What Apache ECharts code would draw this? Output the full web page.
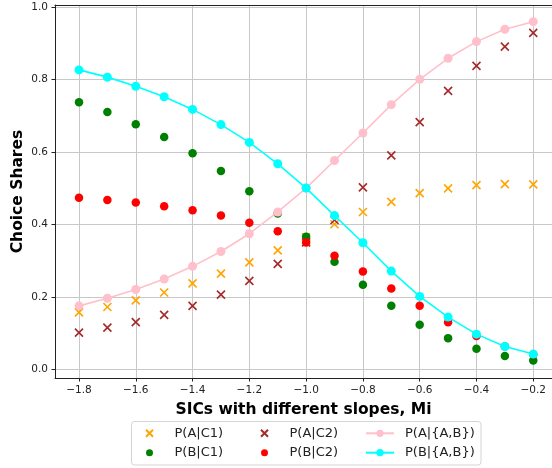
<!DOCTYPE html>
<html><head><meta charset="utf-8">
<script src="https://cdn.jsdelivr.net/npm/echarts@6/dist/echarts.min.js"></script>
<style>html,body{margin:0;padding:0;background:#fff}#c{width:552px;height:468px}</style>
</head><body><div id="c"></div>
<script>
const slopes = [-1.8,-1.7,-1.6,-1.5,-1.4,-1.3,-1.2,-1.1,-1.0,-0.9,-0.8,-0.7,-0.6,-0.5,-0.4,-0.3,-0.2];
const pA_C1 = [0.157,0.172,0.190,0.212,0.237,0.264,0.295,0.328,0.364,0.400,0.434,0.462,0.486,0.499,0.508,0.511,0.510];
const pB_C1 = [0.737,0.710,0.676,0.641,0.596,0.547,0.491,0.430,0.366,0.297,0.233,0.175,0.123,0.086,0.057,0.037,0.024];
const pA_C2 = [0.101,0.115,0.130,0.150,0.175,0.206,0.244,0.291,0.350,0.412,0.502,0.590,0.682,0.768,0.837,0.890,0.928];
const pB_C2 = [0.473,0.467,0.460,0.450,0.439,0.424,0.404,0.381,0.350,0.313,0.270,0.223,0.175,0.130,0.092,0.063,0.041];
const pA_AB = [0.175,0.196,0.220,0.249,0.284,0.325,0.374,0.434,0.500,0.576,0.652,0.730,0.800,0.858,0.904,0.938,0.959];
const pB_AB = [0.826,0.806,0.781,0.752,0.717,0.675,0.626,0.567,0.500,0.424,0.349,0.271,0.201,0.144,0.097,0.063,0.042];
const xTicks = [-1.8,-1.6,-1.4,-1.2,-1.0,-0.8,-0.6,-0.4,-0.2];
const yTicks = [0.0,0.2,0.4,0.6,0.8,1.0];
const seriesNames = ['P(A|C1)','P(B|C1)','P(A|C2)','P(B|C2)','P(A|{A,B})','P(B|{A,B})'];

const FONT = 'DejaVu Sans';
const pair = arr => slopes.map((x, i) => [x, arr[i]]);
const crossPath = 'path://M0,0L10,10M0,10L10,0';
const fmtX = v => (v < 0 ? '\u2212' : '') + Math.abs(v).toFixed(1);

const chart = echarts.init(document.getElementById('c'), null, {renderer: 'canvas'});

function crossSeries(name, data, color) {
  return {
    name, type: 'scatter', data, symbol: crossPath, symbolSize: 8,
    itemStyle: {color: 'none', borderColor: color, borderWidth: 1.6, opacity: 1},
    emphasis: {disabled: true}
  };
}
function dotSeries(name, data, color) {
  return {
    name, type: 'scatter', data, symbol: 'circle', symbolSize: 8.5,
    itemStyle: {color, borderWidth: 0, opacity: 1},
    emphasis: {disabled: true}
  };
}
function lineSeries(name, data, color) {
  return {
    name, type: 'line', data, symbol: 'circle', symbolSize: 9, showSymbol: true, showAllSymbol: true,
    lineStyle: {color, width: 1.6}, itemStyle: {color, borderWidth: 0, opacity: 1},
    emphasis: {disabled: true}
  };
}

const legendCommon = {
  orient: 'vertical', itemWidth: 28, itemHeight: 7, itemGap: 3.4, padding: 0,
  selectedMode: false, z: 10,
  textStyle: {fontFamily: FONT, fontSize: 13, color: '#222', lineHeight: 16, padding: [0, 0, 0, 6]}
};

chart.setOption({
  animation: false,
  backgroundColor: '#fff',
  grid: {left: 55, right: 0, top: 5, bottom: 90, containLabel: false, outerBoundsMode: 'none'},
  xAxis: [{
    type: 'value', min: -1.8845, max: -0.134,
    name: 'SICs with different slopes, Mi', nameLocation: 'middle', nameGap: 24, nameMoveOverlap: false,
    nameTextStyle: {fontFamily: FONT, fontSize: 15.5, fontWeight: 'bold', color: '#000'},
    axisLine: {show: true, onZero: false, lineStyle: {color: '#222', width: 1}},
    axisTick: {show: true, length: 3.5, customValues: xTicks, lineStyle: {color: '#222'}},
    axisLabel: {customValues: xTicks, formatter: fmtX, fontFamily: FONT, fontSize: 10.5, color: '#222', margin: 7},
    splitLine: {show: true, lineStyle: {color: '#c8c8c8', width: 1}}
  }, {
    type: 'value', position: 'top', min: -1.8845, max: -0.134,
    axisLine: {show: true, onZero: false, lineStyle: {color: '#222', width: 1}},
    axisTick: {show: false}, axisLabel: {show: false}, splitLine: {show: false}
  }],
  yAxis: {
    type: 'value', min: -0.024, max: 1.005,
    name: 'Choice Shares', nameLocation: 'middle', nameGap: 29, nameMoveOverlap: false,
    nameTextStyle: {fontFamily: FONT, fontSize: 15.5, fontWeight: 'bold', color: '#000'},
    axisLine: {show: true, onZero: false, lineStyle: {color: '#222', width: 1}},
    axisTick: {show: true, length: 3.5, customValues: yTicks, lineStyle: {color: '#222'}},
    axisLabel: {customValues: yTicks, formatter: v => v.toFixed(1), fontFamily: FONT, fontSize: 10.5, color: '#222', margin: 7},
    splitLine: {show: true, lineStyle: {color: '#c8c8c8', width: 1}}
  },
  legend: [
    Object.assign({}, legendCommon, {left: 143.5, top: 425.3, data: [seriesNames[0], seriesNames[1]]}),
    Object.assign({}, legendCommon, {left: 258.5, top: 425.3, data: [seriesNames[2], seriesNames[3]]}),
    Object.assign({}, legendCommon, {left: 365, top: 425.3, itemHeight: 9, itemGap: 3.4, data: [seriesNames[4], seriesNames[5]]})
  ],
  graphic: [{
    type: 'rect', z: 0,
    shape: {x: 131.5, y: 421.5, width: 349.5, height: 43.5, r: 3},
    style: {fill: '#fff', stroke: '#d4d4d4', lineWidth: 1}
  }],
  series: [
    crossSeries(seriesNames[0], pair(pA_C1), '#FFA500'),
    dotSeries(seriesNames[1], pair(pB_C1), '#008000'),
    crossSeries(seriesNames[2], pair(pA_C2), '#A52A2A'),
    dotSeries(seriesNames[3], pair(pB_C2), '#FF0000'),
    lineSeries(seriesNames[4], pair(pA_AB), '#FFC0CB'),
    lineSeries(seriesNames[5], pair(pB_AB), '#00FFFF')
  ]
});
</script>
</body></html>
